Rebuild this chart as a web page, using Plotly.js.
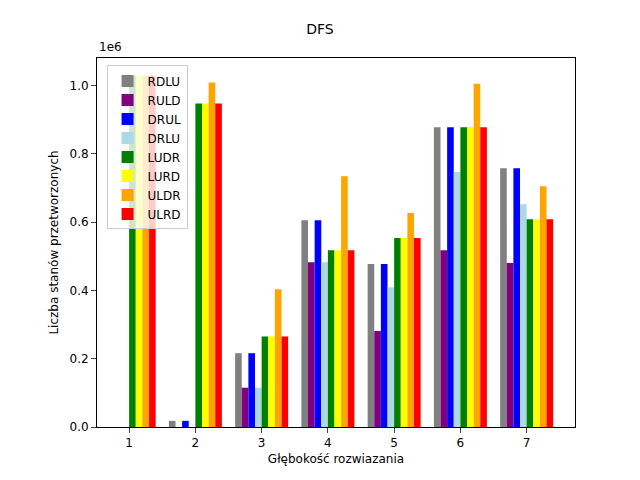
<!DOCTYPE html>
<html><head><script src="https://cdn.plot.ly/plotly-3.0.1.min.js"></script></head>
<body style="margin:0"><div id="c" style="width:640px;height:480px"></div>
<script>
const depths = [1,2,3,4,5,6,7];
const names = ["RDLU","RULD","DRUL","DRLU","LUDR","LURD","ULDR","ULRD"];
const colors = ["gray","purple","blue","lightblue","green","yellow","orange","red"];
const RDLU = [0, 0.018, 0.216, 0.605, 0.477, 0.877, 0.757];
const RULD = [0, 0, 0.115, 0.482, 0.281, 0.517, 0.480];
const DRUL = [0, 0.018, 0.216, 0.605, 0.477, 0.877, 0.757];
const DRLU = [0, 0, 0.115, 0.482, 0.409, 0.746, 0.652];
const LUDR = [1.029, 0.947, 0.265, 0.517, 0.553, 0.877, 0.608];
const LURD = [1.029, 0.947, 0.265, 0.517, 0.553, 0.877, 0.608];
const ULDR = [1.029, 1.008, 0.403, 0.734, 0.626, 1.005, 0.705];
const ULRD = [1.029, 0.947, 0.265, 0.517, 0.553, 0.877, 0.608];
const series = [RDLU,RULD,DRUL,DRLU,LUDR,LURD,ULDR,ULRD];
const traces = series.map((s,i)=>({type:'bar', name:names[i], x:depths, y:s.map(v=>v*1e6), marker:{color:colors[i]}}));
const f = {family:'DejaVu Sans', size:12, color:'black'};
Plotly.newPlot('c', traces, {
  width:640, height:480, font:f, barmode:'group', bargap:0.2, bargroupgap:0,
  margin:{l:97, r:65, t:58, b:53},
  title:{text:'DFS', font:{family:'DejaVu Sans', size:14}, x:0.5, y:0.93, yanchor:'bottom'},
  xaxis:{range:[0.515,7.73], tickvals:depths, showline:true, mirror:true, linecolor:'black', ticks:'outside', showgrid:false, zeroline:false,
    title:{text:'Głębokość rozwiazania', font:f, standoff:5}},
  yaxis:{range:[0,1.08e6], tickvals:[0,2e5,4e5,6e5,8e5,1e6], ticktext:['0.0','0.2','0.4','0.6','0.8','1.0'], showline:true, mirror:true, linecolor:'black', ticks:'outside', showgrid:false, zeroline:false,
    title:{text:'Liczba stanów przetworzonych', font:f, standoff:8}},
  legend:{x:0.02, y:0.98, xanchor:'left', yanchor:'top', bgcolor:'rgba(255,255,255,0.8)', bordercolor:'#ccc', borderwidth:1, tracegroupgap:0},
  annotations:[{text:'1e6', xref:'paper', yref:'paper', x:0, y:1, xanchor:'left', yanchor:'bottom', showarrow:false, font:f, yshift:2}],
  plot_bgcolor:'white', paper_bgcolor:'white'
}, {displayModeBar:false});
</script></body></html>
